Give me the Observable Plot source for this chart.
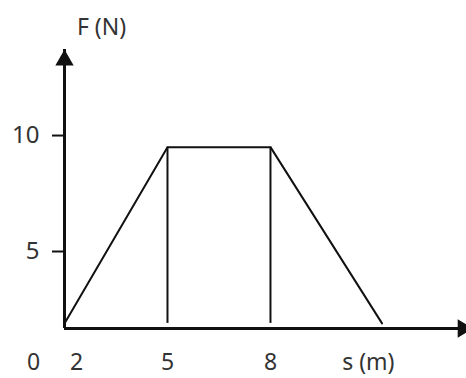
<!DOCTYPE html>
<html>
<head>
<meta charset="utf-8">
<script src="https://cdn.jsdelivr.net/npm/d3@7"></script>
<script src="https://cdn.jsdelivr.net/npm/@observablehq/plot@0.6"></script>
<style>
  html, body { margin: 0; padding: 0; background: #fff; }
  #chart svg { display: block; }
</style>
</head>
<body>
<div id="chart"></div>
<script>
// Force–displacement profile: corners of the trapezoid
const displacement = [2, 5, 8, 11.25];   // s (m)
const force = [1.9, 9.5, 9.5, 1.9];      // F (N)

// Vertical drop lines under the plateau corners
const dropAt = [5, 8];

// Axis tick values and labels
const yTicks = [5, 10];
const xTicks = [2, 5, 8];
const xTickLabels = ["2", "5", "8"];
const originLabel = "0";
const xTitle = "s (m)";
const yTitle = "F (N)";

const profile = displacement.map((s, i) => ({s, F: force[i]}));
const drops = dropAt.map(s => ({s, F: force[displacement.indexOf(s)]}));
const xLabelRows = xTicks.map((s, i) => ({s, label: xTickLabels[i]}));

const yMin = 1.68, yMax = 13.71;
const xMin = 2, xMax = 13.71;
const base = force[0];
const font = "'Noto Sans', 'DejaVu Sans', sans-serif";
const ink = "#111";
const textInk = "#333";
const labelDy = 34;
const labelSize = 23;

const chart = Plot.plot({
  width: 466,
  height: 378,
  marginLeft: 64,
  marginRight: 0,
  marginTop: 49,
  marginBottom: 50,
  style: {fontFamily: font, background: "#fff", overflow: "hidden"},
  x: {domain: [xMin, xMax], axis: null},
  y: {domain: [yMin, yMax], axis: null},
  marks: [
    // y ticks and labels
    Plot.axisY(yTicks, {
      anchor: "left", tickSize: 12, tickPadding: 13, strokeWidth: 2,
      stroke: ink, fontSize: 24, fill: textInk, label: null
    }),
    // axis lines
    Plot.ruleX([xMin], {y1: yMin, y2: yMax, stroke: ink, strokeWidth: 3}),
    Plot.ruleY([yMin], {x1: xMin, x2: xMax, stroke: ink, strokeWidth: 3}),
    // arrowheads
    Plot.dot([xMin], {x: d => d, y: yMax, symbol: "triangle", r: 6.8, fill: ink, stroke: null, dy: 10.6}),
    Plot.dot([xMax], {x: d => d, y: yMin, symbol: "triangle", r: 6.8, fill: ink, stroke: null, rotate: 90, dx: -3.5}),
    // trapezoid profile
    Plot.line(profile, {x: "s", y: "F", stroke: ink, strokeWidth: 2}),
    Plot.ruleX(drops, {x: "s", y1: base, y2: "F", stroke: ink, strokeWidth: 2}),
    // x labels: the first tick label sits just right of the vertical axis
    Plot.text(xLabelRows.slice(0, 1), {x: "s", y: () => yMin, text: "label", dy: labelDy, dx: 12,
      fontSize: labelSize, fill: textInk, lineAnchor: "middle"}),
    Plot.text(xLabelRows.slice(1), {x: "s", y: () => yMin, text: "label", dy: labelDy,
      fontSize: labelSize, fill: textInk, lineAnchor: "middle"}),
    Plot.text([originLabel], {x: () => xMin, y: () => yMin, text: d => d, dy: labelDy, dx: -31,
      fontSize: labelSize, fill: textInk, lineAnchor: "middle"}),
    Plot.text([xTitle], {x: () => 10.85, y: () => yMin, text: d => d, dy: labelDy,
      fontSize: labelSize, fill: textInk, lineAnchor: "middle"}),
    Plot.text([yTitle], {x: () => xMin, y: () => yMax, text: d => d, dx: 37, dy: -22,
      fontSize: 23, fill: textInk, lineAnchor: "middle"})
  ]
});

document.getElementById("chart").appendChild(chart);
</script>
</body>
</html>
